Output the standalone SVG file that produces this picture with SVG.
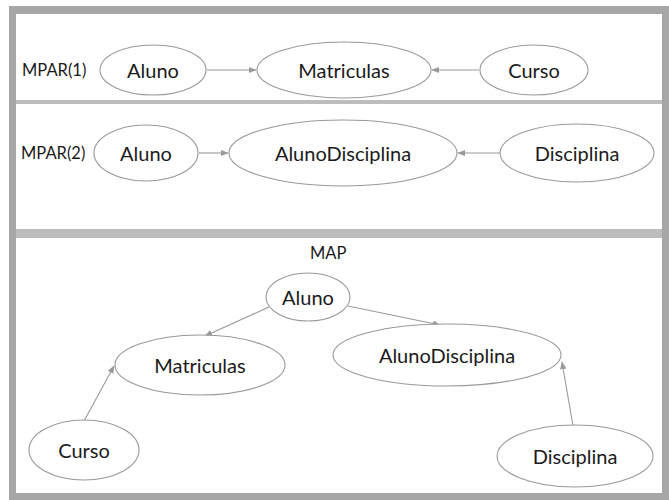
<svg xmlns="http://www.w3.org/2000/svg" width="669" height="500" viewBox="0 0 669 500">
  <defs>
    <marker id="arrow" viewBox="0 0 10 10" refX="9" refY="5" markerWidth="8" markerHeight="8" orient="auto" markerUnits="userSpaceOnUse">
      <path d="M0,1 L10,5 L0,9 Z" fill="#9a9a9a"/>
    </marker>
    <style>
      .node ellipse { fill: #ffffff; stroke: #999999; stroke-width: 1.1; }
      .label { font-family: Lato, "Liberation Sans", sans-serif; font-size: 20px; fill: #1a1a1a; text-anchor: middle; dominant-baseline: central; }
      .tag { font-family: Lato, "Liberation Sans", sans-serif; font-size: 16.5px; fill: #1a1a1a; dominant-baseline: central; }
      .edge { stroke: #9a9a9a; stroke-width: 1.1; fill: none; marker-end: url(#arrow); }
      .frame { fill: #a6a6a6; }
      .rule { fill: #bdbdbd; }
    </style>
  </defs>

  <!-- page background and outer frame -->
  <rect x="0" y="0" width="669" height="500" fill="#ffffff"/>
  <g id="frame">
    <rect class="frame" x="9" y="6" width="660" height="8"/>
    <rect class="frame" x="9" y="6" width="7" height="494"/>
    <rect class="frame" x="662" y="6" width="7" height="494"/>
    <rect class="frame" x="9" y="493" width="660" height="7"/>
    <rect class="rule" x="16" y="100" width="646" height="4"/>
    <rect class="rule" x="16" y="229" width="646" height="9"/>
  </g>

  <!-- section captions -->
  <text class="tag" x="22" y="70">MPAR(1)</text>
  <text class="tag" x="21" y="153">MPAR(2)</text>
  <text class="tag" x="310" y="253">MAP</text>

  <!-- connectors -->
  <g id="connectors">
    <line class="edge" x1="207" y1="70" x2="256" y2="70"/>
    <line class="edge" x1="479" y1="70" x2="432" y2="70"/>
    <line class="edge" x1="199" y1="153" x2="228" y2="153"/>
    <line class="edge" x1="500" y1="153" x2="458" y2="153"/>
    <line class="edge" x1="269" y1="307" x2="205" y2="336"/>
    <line class="edge" x1="348" y1="306" x2="440" y2="325"/>
    <line class="edge" x1="84" y1="421" x2="114" y2="366"/>
    <line class="edge" x1="573" y1="426" x2="562" y2="362"/>
  </g>

  <!-- MPAR(1) nodes -->
  <g id="mpar1-aluno" class="node">
    <ellipse cx="153" cy="70" rx="53" ry="25"/>
    <text class="label" x="153" y="70">Aluno</text>
  </g>
  <g id="mpar1-matriculas" class="node">
    <ellipse cx="344" cy="70" rx="87" ry="28"/>
    <text class="label" x="344" y="70">Matriculas</text>
  </g>
  <g id="mpar1-curso" class="node">
    <ellipse cx="534" cy="70" rx="54" ry="25"/>
    <text class="label" x="534" y="70">Curso</text>
  </g>

  <!-- MPAR(2) nodes -->
  <g id="mpar2-aluno" class="node">
    <ellipse cx="146" cy="153" rx="52" ry="28"/>
    <text class="label" x="146" y="153">Aluno</text>
  </g>
  <g id="mpar2-alunodisciplina" class="node">
    <ellipse cx="343" cy="153" rx="114" ry="33"/>
    <text class="label" x="343" y="153">AlunoDisciplina</text>
  </g>
  <g id="mpar2-disciplina" class="node">
    <ellipse cx="577" cy="153" rx="77" ry="29"/>
    <text class="label" x="577" y="153">Disciplina</text>
  </g>

  <!-- MAP nodes -->
  <g id="map-aluno" class="node">
    <ellipse cx="308" cy="297" rx="42" ry="24"/>
    <text class="label" x="308" y="297">Aluno</text>
  </g>
  <g id="map-matriculas" class="node">
    <ellipse cx="200" cy="365" rx="85" ry="30"/>
    <text class="label" x="200" y="365">Matriculas</text>
  </g>
  <g id="map-alunodisciplina" class="node">
    <ellipse cx="447" cy="355" rx="114" ry="31"/>
    <text class="label" x="447" y="355">AlunoDisciplina</text>
  </g>
  <g id="map-curso" class="node">
    <ellipse cx="84" cy="450" rx="55" ry="30"/>
    <text class="label" x="84" y="450">Curso</text>
  </g>
  <g id="map-disciplina" class="node">
    <ellipse cx="575" cy="456" rx="78" ry="31"/>
    <text class="label" x="575" y="456">Disciplina</text>
  </g>
</svg>
